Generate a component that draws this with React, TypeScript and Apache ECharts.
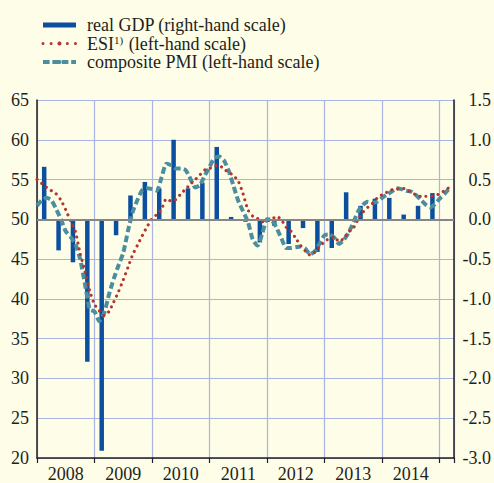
import React, { useEffect, useRef } from 'react';
import * as echarts from 'echarts';

// Year labels (each year spans 12 months on the x axis; month 0 = Jan 2008)
const years = ['2008', '2009', '2010', '2011', '2012', '2013', '2014'];

// Real GDP, quarter-on-quarter % change (right-hand scale), 2008Q1 - 2014Q4
const gdpQuarterly = [
  0.66, -0.39, -0.54, -1.79,
  -2.91, -0.2, 0.3, 0.47,
  0.39, 1.0, 0.39, 0.46,
  0.91, 0.03, -0.03, -0.29,
  -0.08, -0.31, -0.11, -0.41,
  -0.36, 0.34, 0.17, 0.26,
  0.27, 0.06, 0.17, 0.33,
];

// ESI (rescaled, left-hand scale), monthly Jan 2008 - Mar 2015
const esiMonthly = [
  55.0, 54.5, 54.0, 53.6, 53.2, 52.4, 51.2, 49.8, 48.5, 45.7, 43.5, 41.0,
  39.3, 38.5, 37.9, 38.4, 39.6, 40.9, 42.4, 44.0, 45.6, 46.8, 48.0, 49.1,
  50.1, 50.6, 51.3, 52.6, 52.3, 52.5, 53.2, 53.8, 54.4, 55.0, 55.6, 56.2,
  56.4, 56.7, 56.8, 56.3, 55.9, 55.5, 54.8, 53.2, 51.2, 50.4, 50.1, 49.7,
  49.8, 50.0, 50.4, 49.9, 49.0, 48.5, 47.6, 46.7, 46.0, 45.5, 45.9, 46.6,
  47.2, 47.6, 47.8, 47.2, 47.6, 48.4, 48.9, 50.0, 50.9, 51.5, 52.0, 52.7,
  53.1, 53.4, 53.7, 53.8, 53.9, 53.8, 53.4, 53.1, 52.9, 52.9, 52.9, 53.0,
  53.2, 53.6, 54.0,
];

// Composite PMI (left-hand scale), monthly Jan 2008 - Mar 2015
const pmiMonthly = [
  51.7, 52.4, 52.7, 52.4, 51.3, 50.0, 48.5, 47.8, 46.9, 45.0, 41.9, 38.7,
  38.4, 37.2, 38.2, 40.5, 42.5, 44.2, 45.8, 48.6, 51.0, 52.5, 53.7, 53.9,
  53.8, 53.6, 55.3, 57.0, 56.8, 56.4, 56.4, 56.2, 55.1, 54.0, 54.3, 55.5,
  56.6, 57.7, 57.9, 57.4, 56.1, 54.2, 52.3, 51.0, 49.7, 47.5, 46.7, 48.2,
  50.0, 49.9, 48.9, 47.6, 46.4, 46.4, 46.5, 46.6, 46.3, 45.6, 46.0, 47.0,
  48.0, 48.1, 47.7, 46.9, 47.4, 48.3, 49.6, 51.0, 51.8, 52.2, 52.1, 52.2,
  52.7, 53.1, 53.5, 53.9, 53.8, 53.6, 53.5, 53.1, 52.5, 51.9, 51.5, 51.9,
  52.6, 53.2, 53.9,
];

const GDP_NAME = 'real GDP (right-hand scale)';
const ESI_NAME = 'ESI1) (left-hand scale)';
const PMI_NAME = 'composite PMI (left-hand scale)';

export default function App() {
  const ref = useRef<HTMLDivElement>(null);

  useEffect(() => {
    if (!ref.current) return;
    const chart = echarts.init(ref.current, null, { renderer: 'svg' });
    const font = '"Liberation Serif", "Times New Roman", serif';
    const textColor = '#231f20';
    const gridColor = '#a9b4e4';
    const gdpColor = '#0b4f9e';
    const esiColor = '#b5342c';
    const pmiColor = '#4a8ea0';

    const gdpData = gdpQuarterly.map((v, i) => [3 * i + 1.5, v]);
    const esiData = esiMonthly.map((v, i) => [i, v]);
    const pmiData = pmiMonthly.map((v, i) => [i, v]);
    const yearMid = years.map((_, i) => 12 * i + 6);

    chart.setOption({
      animation: false,
      backgroundColor: '#fefde8',
      textStyle: { fontFamily: font },
      legend: {
        orient: 'vertical',
        left: 36,
        top: 11,
        itemWidth: 33,
        itemHeight: 5,
        itemGap: 0.5,
        selectedMode: false,
        textStyle: {
          fontFamily: font,
          fontSize: 18,
          color: textColor,
          padding: [0, 0, 0, 6],
          rich: {
            n: { fontFamily: font, fontSize: 18, color: textColor },
            s: { fontFamily: font, fontSize: 11, color: textColor, verticalAlign: 'top', padding: [0, 1, 0, 0] },
          },
        },
        formatter: (name: string) =>
          name === ESI_NAME ? '{n|ESI}{s|1)}{n| (left-hand scale)}' : name,
        data: [
          { name: GDP_NAME, icon: 'rect', itemStyle: { color: gdpColor, borderWidth: 0 } },
          { name: ESI_NAME, lineStyle: { type: [0.01, 8.1], cap: 'round', width: 3, color: esiColor } },
          { name: PMI_NAME, lineStyle: { type: [6.6, 2.8], width: 4, color: pmiColor } },
        ],
      },
      grid: { left: 37, right: 37, top: 100, bottom: 21, containLabel: false },
      xAxis: {
        type: 'value',
        min: 0,
        max: 87,
        interval: 12,
        axisLine: { show: true, onZero: false, lineStyle: { color: textColor, width: 1.5 } },
        axisTick: { show: true, length: 5, lineStyle: { color: textColor, width: 1.2 } },
        axisLabel: {
          show: true,
          customValues: yearMid,
          formatter: (v: number) => years[Math.round((v - 6) / 12)] ?? '',
          fontFamily: font,
          fontSize: 18,
          color: textColor,
          margin: 7,
        },
        splitLine: { show: true, lineStyle: { color: gridColor, width: 1.2 } },
      },
      yAxis: [
        {
          type: 'value',
          position: 'left',
          min: 20,
          max: 65,
          interval: 5,
          axisLine: { show: true, lineStyle: { color: textColor, width: 1.5 } },
          axisTick: { show: false },
          axisLabel: { fontFamily: font, fontSize: 18, color: textColor, margin: 8 },
          splitLine: { show: true, lineStyle: { color: gridColor, width: 1.2 } },
        },
        {
          type: 'value',
          position: 'right',
          min: -3,
          max: 1.5,
          interval: 0.5,
          axisLine: { show: true, lineStyle: { color: textColor, width: 1.5 } },
          axisTick: { show: false },
          axisLabel: {
            fontFamily: font,
            fontSize: 18,
            color: textColor,
            align: 'right',
            margin: 37,
            formatter: (v: number) => v.toFixed(1),
          },
          splitLine: { show: false },
        },
      ],
      series: [
        {
          name: GDP_NAME,
          type: 'bar',
          yAxisIndex: 1,
          barWidth: 4.5,
          data: gdpData,
          itemStyle: { color: gdpColor },
          markLine: {
            silent: true,
            symbol: ['none', 'none'],
            label: { show: false },
            data: [{ yAxis: 0 }],
            lineStyle: { color: '#868686', width: 2.2, type: 'solid' },
          },
        },
        {
          name: PMI_NAME,
          type: 'line',
          yAxisIndex: 0,
          data: pmiData,
          symbol: 'none',
          smooth: 0.2,
          lineStyle: { color: pmiColor, width: 4, type: [6.6, 3.2] },
          itemStyle: { color: pmiColor },
        },
        {
          name: ESI_NAME,
          type: 'line',
          yAxisIndex: 0,
          data: esiData,
          symbol: 'none',
          smooth: 0.2,
          lineStyle: { color: esiColor, width: 3.1, type: [0.01, 6], cap: 'round' },
          itemStyle: { color: esiColor },
        },
      ],
    });

    return () => chart.dispose();
  }, []);

  return (
    <div
      ref={ref}
      style={{ position: 'fixed', left: 0, top: 0, width: 494, height: 483 }}
    />
  );
}
